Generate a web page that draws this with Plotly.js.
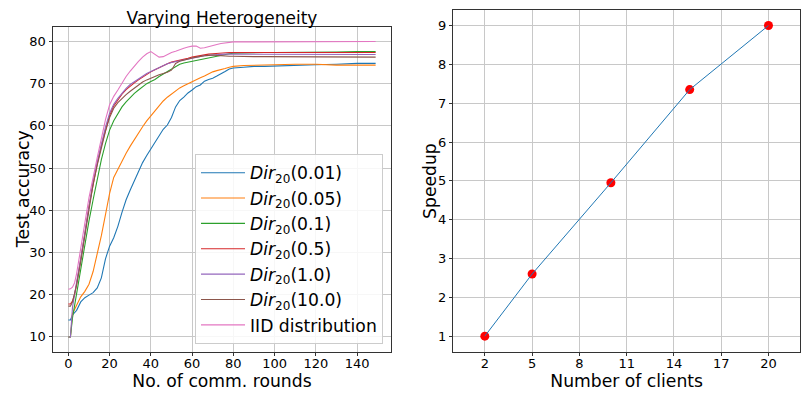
<!DOCTYPE html>
<html>
<head>
<meta charset="utf-8">
<script src="https://cdn.plot.ly/plotly-3.0.1.min.js"></script>
<style>html,body{margin:0;padding:0;background:#fff}#chart{width:801px;height:394px}</style>
</head>
<body>
<div id="chart"></div>
<script>
const rounds = [0,1,2,3,4,6,8,10,12,14,16,18,20,22,24,26,28,30,32,34,36,38,40,42,44,46,48,50,52,54,56,58,60,62,64,66,68,70,72,74,76,78,80,85,90,95,100,110,120,130,140,149];

const dir001 = [14,14,15.2,15.8,16.3, 18.3,19.3,19.9,20.5,21.6,24,28.5,31.5,33.5,36.2, 39.5,42.5,44.8,47,49.2,51.3,53,54.5,56,57.5, 59.2,60.2,62,64.5,66,66.8,67.8,68.5,69.3,69.7, 70.6,71,71.3,71.8,72.3,72.9,73.5,73.7, 73.9,74.1,74.1,74.2, 74.3,74.5,74.6,74.8,74.8];
const dir005 = [10,10,15.5,16.5,17.5, 19.5,20.8,22.5,25.5,29.5,34,39,44,47.8,49.8, 51.8,53.5,55.2,56.8,58.3,59.8,61.2,62.4,63.6,64.8, 65.9,66.8,67.6,68.3,69,69.5,70,70.5,70.9,71.4, 71.8,72.4,72.8,73.1,73.3,73.6,73.9,74.1, 74.3,74.4,74.5,74.5, 74.6,74.6,74.4,74.4,74.4];
const dir01 = [10,10,14.5,17.5,20.5, 26.5,32,37.5,42.5,47.5,52,55.8,59,61.2,63, 64.5,65.7,66.8,67.7,68.5,69.3,70,70.5,71,71.7, 72.3,73,73.6,74.1,74.6,74.9,75.1,75.3,75.5,75.7, 75.9,76.2,76.4,76.6,76.8,77,77.1,77.2, 77.3,77.3,77.4,77.4, 77.4,77.5,77.5,77.6,77.6];
const dir05 = [17.8,17.8,18.5,20,22.5, 28,34.5,41,46.5,51,55.3,59.2,62.5,64.7,66.2, 67.5,68.6,69.5,70.2,70.9,71.6,72.2,72.8,73.3,73.8, 74.3,74.7,75.1,75.3,75.5,75.7,76,76.3,76.5,76.7, 76.9,77,77.1,77.2,77.3,77.3,77.4,77.4, 77.4,77.4,77.4,77.4, 77.4,77.4,77.4,77.4,77.4];
const dir10 = [10,10,17,20.5,23, 28.5,35,41.5,47,51.5,55.8,59.7,63,65.1,66.5, 67.8,68.9,69.8,70.5,71.2,71.9,72.4,72.9,73.4,73.9, 74.3,74.7,75,75.2,75.4,75.6,75.9,76.1,76.3,76.5, 76.6,76.7,76.8,76.9,76.9,77,77,77, 77,77,77,76.9, 76.9,76.9,76.9,76.9,76.9];
const dir100 = [17.3,17.3,18.3,20,22.3, 27.8,34.2,40.7,46.2,50.7,54.9,58.7,62,64.2,65.5, 66.5,67.4,68.2,69,69.8,70.4,70.9,71.3,71.8,72.1, 72.4,72.7,73.2,74.8,75.3,75.6,75.9,76.1,76.3,76.5, 76.6,76.7,76.8,76.7,76.6,76.6,76.5,76.5, 76.4,76.4,76.4,76.4, 76.3,76.3,76.3,76.3,76.3];
const iid = [21.3,21.4,21.8,22.8,25, 30.5,37,43,48,52.5,57,61.5,65,67,68.5, 70.2,71.7,73,74.2,75.3,76.3,77.1,77.6,77,76.3, 76.4,76.9,77.4,77.7,78.1,78.4,78.7,78.9,78.9,78.4, 78.5,78.8,79.1,79.3,79.5,79.6,79.8,79.9, 79.9,79.9,79.9,79.9, 80,80,80,80,80];

const seriesNames = ['<i>Dir</i><sub>20</sub>(0.01)','<i>Dir</i><sub>20</sub>(0.05)','<i>Dir</i><sub>20</sub>(0.1)','<i>Dir</i><sub>20</sub>(0.5)','<i>Dir</i><sub>20</sub>(1.0)','<i>Dir</i><sub>20</sub>(10.0)','IID distribution'];
const seriesValues = [dir001, dir005, dir01, dir05, dir10, dir100, iid];
const colors = ['#1f77b4','#ff7f0e','#2ca02c','#d62728','#9467bd','#8c564b','#e377c2'];

const roundTicks = [0,20,40,60,80,100,120,140];
const accTicks = [10,20,30,40,50,60,70,80];
const clients = [2,5,10,15,20];
const speedup = [1,2.6,4.95,7.35,9];
const clientTicks = [2,5,8,11,14,17,20];

const traces = seriesValues.map((v,i)=>({
  x: rounds, y: v, name: seriesNames[i], type:'scatter', mode:'lines',
  line:{color:colors[i], width:1.1}, xaxis:'x', yaxis:'y'
}));
traces.push({x:clients, y:speedup, type:'scatter', mode:'markers', marker:{color:'#ff0000', size:9}, xaxis:'x2', yaxis:'y2', showlegend:false});
traces.push({x:clients, y:speedup, type:'scatter', mode:'lines', line:{color:'#1f77b4', width:1}, xaxis:'x2', yaxis:'y2', showlegend:false});

const W=801,H=394;
const fam = 'DejaVu Sans, sans-serif';
const font = {family:fam, color:'#000'};
const axBase = {
  showline:true, mirror:true, linecolor:'#333', linewidth:1,
  showgrid:true, gridcolor:'#c8c8c8', gridwidth:1,
  ticks:'outside', ticklen:3.5, tickcolor:'#333', zeroline:false,
  tickfont:{family:fam, size:13, color:'#000'}
};
// tick-mark-only overlay axes (labels on the main x axes sit closer to the frame, as in the original)
const tickOnly = {ticks:'outside', ticklen:3.5, tickcolor:'#333', showticklabels:false, showgrid:false, showline:false, zeroline:false, side:'bottom'};
const titleFont = {family:fam, size:17.2, color:'#000'};
const domY1 = [(H-351.7)/H,(H-26.7)/H], domY2 = [(H-351.7)/H,(H-10)/H];
const range1 = [-7.45,156.45], range2 = [0,22];
const layout = {
  width:W, height:H, margin:{l:0,r:0,t:0,b:0},
  paper_bgcolor:'#fff', plot_bgcolor:'#fff', font:font,
  showlegend:true,
  title:{text:'Varying Heterogeneity', x:222/W, xanchor:'center', y:1-18/H, yanchor:'middle', font:{family:fam, size:17, color:'#000'}},
  xaxis:Object.assign({}, axBase, {domain:[53/W,391/W], range:range1, tickvals:roundTicks, ticks:'',
    title:{text:'No. of comm. rounds', font:titleFont, standoff:0}}),
  xaxis3:Object.assign({}, tickOnly, {overlaying:'x', anchor:'y', range:range1, tickvals:roundTicks}),
  yaxis:Object.assign({}, axBase, {domain:domY1, range:[6.5,83.5], tickvals:accTicks}),
  xaxis2:Object.assign({}, axBase, {domain:[453.3/W,800/W], range:range2, tickvals:clientTicks, anchor:'y2', ticks:'',
    title:{text:'Number of clients', font:titleFont, standoff:0}}),
  xaxis4:Object.assign({}, tickOnly, {overlaying:'x2', anchor:'y2', range:range2, tickvals:clientTicks}),
  yaxis2:Object.assign({}, axBase, {domain:domY2, range:[0.6,9.4], dtick:1, anchor:'x2'}),
  annotations:[
    {text:'Test accuracy', textangle:-90, xref:'paper', yref:'paper', x:23/W, y:(H-189.2)/H, xanchor:'center', yanchor:'middle', showarrow:false, font:titleFont},
    {text:'Speedup', textangle:-90, xref:'paper', yref:'paper', x:430/W, y:(H-180.9)/H, xanchor:'center', yanchor:'middle', showarrow:false, font:titleFont}
  ],
  legend:{x:383/W, xanchor:'right', y:(H-344)/H, yanchor:'bottom', bgcolor:'rgba(255,255,255,0.85)', bordercolor:'#ccc', borderwidth:1,
    font:{family:fam, size:17.2, color:'#000'}, tracegroupgap:0, itemwidth:44}
};
// invisible anchor traces so the tick-only overlay axes are drawn
traces.push({x:[], y:[], xaxis:'x3', yaxis:'y', showlegend:false, hoverinfo:'skip'});
traces.push({x:[], y:[], xaxis:'x4', yaxis:'y2', showlegend:false, hoverinfo:'skip'});
Plotly.newPlot('chart', traces, layout, {displayModeBar:false, staticPlot:true});
</script>
</body>
</html>
